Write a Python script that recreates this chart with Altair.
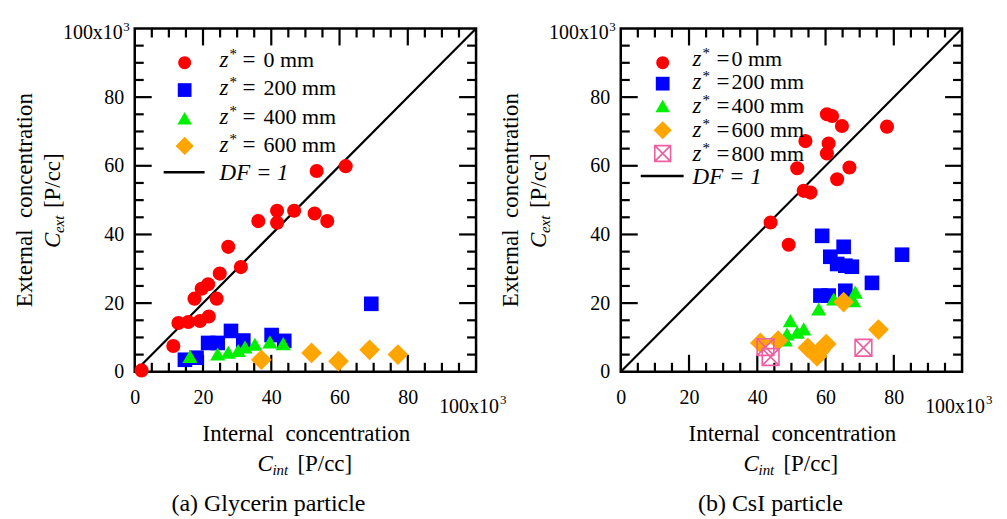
import altair as alt
import pandas as pd

FONT = "Liberation Serif"

# ---------------- data ----------------
Z_LABELS = ["0 mm", "200 mm", "400 mm", "600 mm", "800 mm"]
DF_LABEL = "DF = 1"
AXIS_VALUES = [0, 20, 40, 60, 80]
MAJOR_TICKS = [20, 40, 60, 80]
MINOR_TICKS = [5, 10, 15, 25, 30, 35, 45, 50, 55, 65, 70, 75, 85, 90, 95]
DF_LINE = [0, 100]

# (a) Glycerin particle  (x = C_int, y = C_ext, in 10^3 P/cc)
a0_x = [2.0, 11.3, 12.8, 15.7, 19.1, 21.7, 17.5, 19.6, 21.5, 24.0, 24.9, 27.4, 31.1,
        36.2, 41.7, 41.7, 46.7, 52.7, 56.4, 53.3, 61.8]
a0_y = [0.4, 7.5, 14.2, 14.5, 14.8, 16.1, 21.3, 24.2, 25.5, 21.3, 28.6, 36.4, 30.5,
        43.9, 43.4, 46.9, 46.9, 46.1, 43.9, 58.5, 59.9]
a1_x = [14.7, 18.1, 21.5, 24.3, 28.2, 31.8, 40.1, 43.8, 69.3]
a1_y = [3.5, 4.1, 8.4, 8.4, 11.9, 9.1, 10.7, 9.0, 19.8]
a2_x = [16.2, 24.3, 27.4, 30.3, 32.3, 35.2, 39.6, 43.5]
a2_y = [4.5, 5.2, 5.7, 6.2, 7.2, 8.0, 8.7, 8.2]
a3_x = [37.1, 51.8, 59.7, 68.8, 77.1]
a3_y = [3.5, 5.5, 3.1, 6.4, 5.0]

# (b) CsI particle
b0_x = [60.4, 61.9, 64.8, 78.0, 54.1, 60.9, 60.4, 51.7, 67.0, 63.4, 53.6, 55.6, 43.9, 49.2]
b0_y = [75.0, 74.5, 71.6, 71.4, 67.2, 66.5, 63.6, 59.3, 59.5, 56.1, 52.7, 52.2, 43.5, 37.0]
b1_x = [59.0, 65.3, 61.4, 63.4, 65.8, 67.7, 73.6, 82.4, 58.5, 60.9, 65.8]
b1_y = [39.6, 36.4, 33.5, 31.4, 30.9, 30.6, 25.9, 34.1, 22.2, 22.2, 23.6]
b2_x = [49.7, 48.7, 51.7, 53.6, 58.0, 62.4, 68.7, 68.2, 48.2]
b2_y = [14.9, 11.0, 11.5, 12.5, 18.3, 21.2, 23.2, 20.7, 9.3]
b3_x = [40.9, 46.1, 54.8, 57.5, 60.2, 58.5, 65.3, 75.5]
b3_y = [8.4, 9.1, 7.0, 4.5, 8.1, 6.2, 20.3, 12.3]
b4_x = [42.4, 43.9, 71.1]
b4_y = [7.2, 4.3, 7.0]

# ---------------- styles ----------------
XBOX = "M-1,-1H1V1H-1Z M-1,-1L1,1 M1,-1L-1,1"
STYLES = [
    dict(shape="circle", filled=True, color="#ff0000", size=200),
    dict(shape="square", filled=True, color="#0000ff", size=215),
    dict(shape="triangle-up", filled=True, color="#00f000", size=230),
    dict(shape="diamond", filled=True, color="#ffa500", size=430),
    dict(shape=XBOX, filled=False, color="#ee5fa0", size=280, strokeWidth=1.6),
]
LEG_SIZES = [170, 190, 210, 330, 250]

W, H = 342, 344
MAJ, MIN = 17, 9          # tick lengths in pixels

SC = alt.Scale(domain=[0, 100], nice=False, zero=False)
AXX = alt.Axis(values=AXIS_VALUES, ticks=False, domain=False, grid=False, labelFont=FONT,
               labelFontSize=20, labelPadding=16, labelColor="black", title=None,
               labelFlush=False, labelOverlap=False)
AXY = alt.Axis(values=AXIS_VALUES, ticks=False, domain=False, grid=False, labelFont=FONT,
               labelFontSize=20, labelPadding=11, labelColor="black", title=None,
               labelFlush=False, labelOverlap=False)


def X(f):
    return alt.X(f"{f}:Q", scale=SC, axis=AXX)


def Y(f):
    return alt.Y(f"{f}:Q", scale=SC, axis=AXY)


ONE = pd.DataFrame({"k": [0]})


def T(s, x, y, size=22, italic=False, align="left", angle=0):
    return alt.Chart(ONE).mark_text(
        text=s, font=FONT, fontSize=size, fontStyle="italic" if italic else "normal",
        align=align, baseline="alphabetic", angle=angle, color="black"
    ).encode(x=alt.value(x), y=alt.value(y))


def line_table():
    """DF = 1 line plus the inward frame ticks, as separate two-point segments."""
    rows = [dict(x=DF_LINE[0], y=DF_LINE[0], seg="df"), dict(x=DF_LINE[1], y=DF_LINE[1], seg="df")]
    n = 0
    for vals, L in ((MAJOR_TICKS, MAJ), (MINOR_TICKS, MIN)):
        lx, ly = L * 100.0 / W, L * 100.0 / H
        for v in vals:
            for (x1, y1, x2, y2) in ((v, 0.0, v, ly), (v, 100.0, v, 100.0 - ly),
                                     (0.0, v, lx, v), (100.0, v, 100.0 - lx, v)):
                n += 1
                rows.append(dict(x=x1, y=y1, seg=f"t{n}"))
                rows.append(dict(x=x2, y=y2, seg=f"t{n}"))
    return pd.DataFrame(rows)


LINES = line_table()


def panel(series, leg, caption, cap_x):
    layers = []
    layers.append(alt.Chart(LINES).mark_line(color="black", strokeWidth=2.2).encode(
        x=X("x"), y=Y("y"), detail="seg:N", order=alt.Order("y:Q")))
    for i, (xs, ys) in enumerate(series):
        d = pd.DataFrame({"x": xs, "y": ys})
        layers.append(alt.Chart(d).mark_point(opacity=1, **STYLES[i]).encode(x=X("x"), y=Y("y")))
    # legend
    for i in range(len(series)):
        st = dict(STYLES[i])
        st["size"] = LEG_SIZES[i]
        layers.append(alt.Chart(ONE).mark_point(opacity=1, **st).encode(
            x=alt.value(leg["sx"]), y=alt.value(leg["sy"][i])))
        x0, b = leg["tx"], leg["tb"][i]
        layers.append(T("z", x0, b, 23, italic=True))
        layers.append(T("*", x0 + 10, b - 8, 15))
        layers.append(T("=", x0 + leg["eq"], b, 23))
        layers.append(T(Z_LABELS[i], x0 + leg["val"], b, 22))
    layers.append(alt.Chart(ONE).mark_rule(color="black", strokeWidth=2.5).encode(
        x=alt.value(leg["lx"][0]), x2=alt.value(leg["lx"][1]), y=alt.value(leg["ly"])))
    layers.append(T(DF_LABEL, leg["tx"], leg["dfb"], 23, italic=True))
    # special 100x10^3 labels
    layers.append(T("100x10", 305, 385, 20))
    layers.append(T("3", 366, 376, 13))
    layers.append(T("100x10", -12, 11, 20, align="right"))
    layers.append(T("3", -5, 3, 13, align="right"))
    # y title
    layers.append(T("External\u00a0\u00a0concentration", -103, 172, 23, align="center", angle=270))
    layers.append(T("C", -75, 220, 23, italic=True, angle=270))
    layers.append(T("ext", -71, 205, 15, italic=True, angle=270))
    layers.append(T("[P/cc]", -75, 180, 23, angle=270))
    # x title
    layers.append(T("Internal\u00a0\u00a0concentration", 172, 413, 23, align="center"))
    layers.append(T("C", 123, 443, 23, italic=True))
    layers.append(T("int", 138, 447, 15, italic=True))
    layers.append(T("[P/cc]", 163, 443, 23))
    # caption
    layers.append(T(caption, cap_x, 483, 24, align="center"))
    return alt.layer(*layers).properties(width=W, height=H)


left = panel(
    [(a0_x, a0_y), (a1_x, a1_y), (a2_x, a2_y), (a3_x, a3_y)],
    dict(sx=50, sy=[34.3, 61.7, 90, 117.7], tx=85, tb=[39, 67, 95.5, 124], eq=23, val=44,
         lx=(29, 70), ly=144, dfb=152),
    "(a) Glycerin particle", 134,
)
right = panel(
    [(b0_x, b0_y), (b1_x, b1_y), (b2_x, b2_y), (b3_x, b3_y), (b4_x, b4_y)],
    dict(sx=42, sy=[34.3, 55.3, 77.7, 102, 125.3], tx=72, tb=[38, 61, 84.5, 109, 132.5], eq=24, val=39,
         lx=(20, 63), ly=147.7, dfb=156),
    "(b) CsI particle", 150,
)

chart = alt.hconcat(left, right, spacing=145, bounds="flush").properties(
    padding={"left": 4, "top": 11, "right": 5, "bottom": 2}
).configure(background="white").configure_view(stroke="black", strokeWidth=2.5)

chart.save("out.html", embed_options={"renderer": "svg", "actions": False})
